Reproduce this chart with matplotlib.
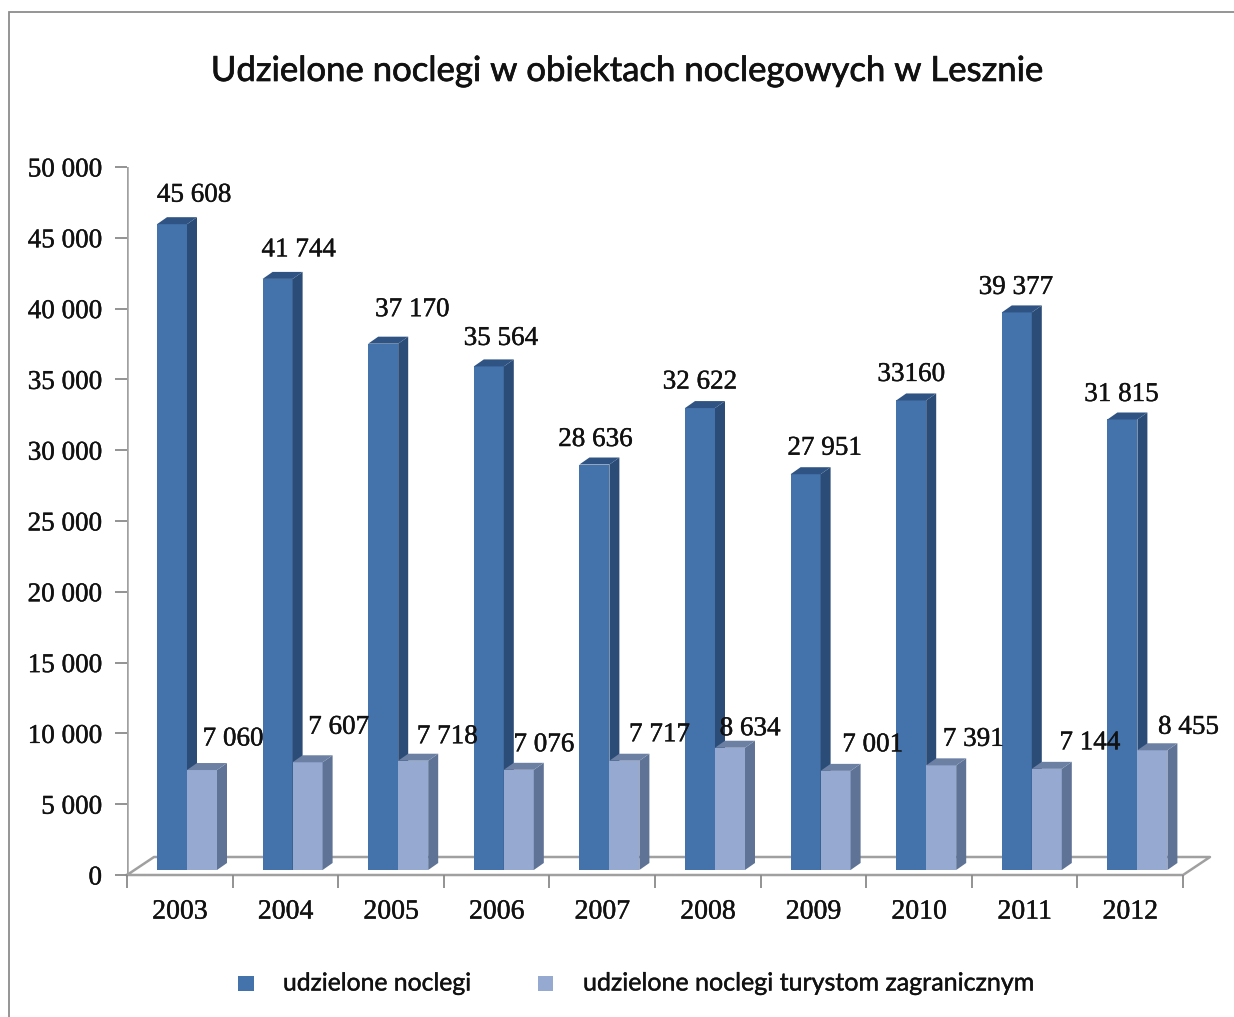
import matplotlib
matplotlib.use("Agg")
import matplotlib.pyplot as plt
from matplotlib.patches import Polygon, Rectangle
import matplotlib.patheffects as pe

years = ['2003', '2004', '2005', '2006', '2007', '2008', '2009', '2010', '2011', '2012']
noclegi = [45608, 41744, 37170, 35564, 28636, 32622, 27951, 33160, 39377, 31815]
zagraniczni = [7060, 7607, 7718, 7076, 7717, 8634, 7001, 7391, 7144, 8455]
# etykiety jak na oryginale (niektore bez spacji)
labels1 = ['45 608', '41 744', '37 170', '35 564', '28 636', '32 622', '27 951', '33160', '39 377', '31 815']
labels2 = ['7 060', '7 607', '7 718', '7 076', '7 717', '8 634', '7 001', '7 391', '7 144', '8 455']
yticks = [0, 5000, 10000, 15000, 20000, 25000, 30000, 35000, 40000, 45000, 50000]
ylabels = ['0', '5 000', '10 000', '15 000', '20 000', '25 000', '30 000', '35 000', '40 000', '45 000', '50 000']

# przesuniecia etykiet w pikselach (na oryginale ustawione recznie)
nudge1_x = [37, 36, 44, 27, 16, 15, 34, 15, 14, 14]
nudge1_y = [29, 29, 34, 28, 25, 26, 26, 26, 25, 25]
nudge2_x = [46, 46, 49, 40, 50, 35, 52, 47, 58, 51]
nudge2_y = [31, 35, 24, 25, 26, 19, 26, 26, 26, 23]

W, H = 1234, 1017
L, R, T, B = 127, 1183, 167, 875
SERIF = 'Liberation Serif'
SANS = 'Lato'
INK = '#111111'

fig = plt.figure(figsize=(W / 100, H / 100), dpi=100)
ax = fig.add_axes([L / W, 1 - B / H, (R - L) / W, (B - T) / H])
ax.set_xlim(0, 10)
ax.set_ylim(0, 50000)
ax.patch.set_alpha(0)

px = 10 / (R - L)       # jeden piksel w jednostkach x
py = 50000 / (B - T)    # jeden piksel w jednostkach y
base = 5 * py           # slupki stoja troche nad osia
w = 30 * px
dx = 10 * px
dy = 7 * py
bold = [pe.withStroke(linewidth=0.3, foreground=INK)]


def slupek(x, v, front, side, top, z):
    ax.bar(x, v, width=w, bottom=base, align='edge', color=front, zorder=z)
    y1 = base + v
    ax.add_patch(Polygon([(x + w, base), (x + w + dx, base + dy), (x + w + dx, y1 + dy), (x + w, y1)],
                         color=side, lw=0, zorder=z, clip_on=False))
    ax.add_patch(Polygon([(x, y1), (x + dx, y1 + dy), (x + w + dx, y1 + dy), (x + w, y1)],
                         color=top, lw=0, zorder=z, clip_on=False))


def etykieta(txt, x, y, nx, ny):
    ax.annotate(txt, xy=(x, y), xytext=(nx, ny), textcoords='offset pixels', ha='center', va='center',
                fontsize=19.5, family=SERIF, color=INK, zorder=6, path_effects=bold, annotation_clip=False)


for i in range(10):
    x1 = i + 30 * px
    x2 = x1 + w
    slupek(x1, noclegi[i], '#4472AB', '#2B4C76', '#2F5483', 3)
    slupek(x2, zagraniczni[i], '#95A9D1', '#5F7396', '#6C80A4', 4)
    etykieta(labels1[i], x1, base + noclegi[i], nudge1_x[i], nudge1_y[i])
    etykieta(labels2[i], x2, base + zagraniczni[i], nudge2_x[i], nudge2_y[i])

# podloga wykresu
ox = 27 * px
oy = 18 * py
ax.plot([0, ox, 10 + ox, 10, 0], [0, oy, oy, 0, 0], color='#A0A0A0', lw=1.8, clip_on=False, zorder=1)
ax.plot([0, 0], [0, 50000], color='#A0A0A0', lw=1.8, zorder=2)

for s in ax.spines.values():
    s.set_visible(False)
ax.set_yticks(yticks)
ax.set_yticklabels(ylabels, fontsize=19.5, family=SERIF, color=INK, path_effects=bold)
ax.set_xticks(range(11))
ax.set_xticklabels([])
ax.tick_params(axis='y', length=9, width=1.3, color='#8A8A8A', pad=9, direction='out')
ax.tick_params(axis='x', length=9, width=1.3, color='#8A8A8A')
for i, y in enumerate(years):
    ax.text(i + 0.5, -2620, y, ha='center', va='center', fontsize=20, family=SERIF, color=INK, path_effects=bold)

# ramka (prawa krawedz poza obrazkiem), tytul i legenda
fig.add_artist(Rectangle((9 / W, -0.01), 1.1, 1 - 12 / H + 0.01, transform=fig.transFigure,
                         fill=False, edgecolor='#8C8C8C', lw=1.3, zorder=-1))
fig.text(628 / W, 1 - 71 / H, 'Udzielone noclegi w obiektach noclegowych w Lesznie', ha='center', va='center',
         fontsize=25, family=SANS, color=INK, path_effects=[pe.withStroke(linewidth=0.5, foreground=INK)])
fig.add_artist(Rectangle((238 / W, 1 - 991 / H), 16 / W, 15 / H, transform=fig.transFigure, color='#4472AB', lw=0))
fig.add_artist(Rectangle((538 / W, 1 - 991 / H), 15 / W, 15 / H, transform=fig.transFigure, color='#95A9D1', lw=0))
fig.text(283 / W, 1 - 983 / H, 'udzielone noclegi', ha='left', va='center', fontsize=17.8, family=SANS, color=INK,
         path_effects=bold)
fig.text(583 / W, 1 - 983 / H, 'udzielone noclegi turystom zagranicznym', ha='left', va='center',
         fontsize=18, family=SANS, color=INK, path_effects=bold)

fig.savefig('out.png', dpi=100)
